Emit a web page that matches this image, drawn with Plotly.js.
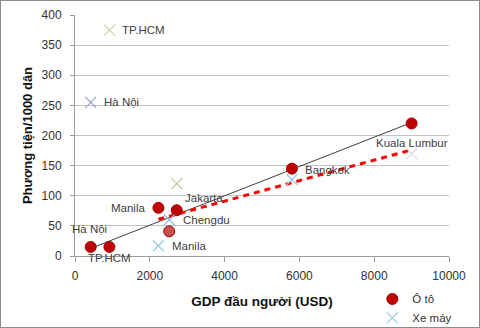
<!DOCTYPE html>
<html>
<head>
<meta charset="utf-8">
<script src="https://cdn.plot.ly/plotly-3.0.1.min.js"></script>
<style>
html,body{margin:0;padding:0;background:#fff;}
#frame{width:478px;height:326px;border:1px solid #8c8c8c;}
#chart{width:478px;height:326px;}
</style>
</head>
<body>
<div id="frame"><div id="chart"></div></div>
<script>
// ---- data ----
var cities = ["Manila", "Bangkok", "Jakarta", "Chengdu", "Kuala Lumbur", "Hà Nội", "TP.HCM"];
var gdpPerCapita = [2230, 5800, 2720, 2520, 9000, 420, 920];
var carsPer1000 = [80, 145, 76, 41, 220, 15, 15];
var motorbikesPer1000 = [17, 127, 120, 60, 170, 255, 375];
var motorbikeInTrend = [true, true, true, true, true, false, false];
var carLabelCities = ["Manila", "Bangkok", "Jakarta", "Hà Nội", "TP.HCM"];
var motorbikeLabelCities = ["Manila", "Chengdu", "Kuala Lumbur", "Hà Nội", "TP.HCM"];
var seriesNames = ["Ô tô", "Xe máy"];
var xTicks = [0, 2000, 4000, 6000, 8000, 10000];
var xTickText = ["0", "2000", "4000", "6000", "8000", "10000"];
var yTicks = [0, 50, 100, 150, 200, 250, 300, 350, 400];

// ---- styles ----
var carColors = ["#C00000", "#C00000", "#C00000", "#C8504F", "#C00000", "#C00000", "#C00000"];
var bikeColors = ["#93CDDD", "#93CDDD", "#C4BD97", "#8DB4E2", "#D9D9D9", "#95A3D2", "#C8D4A8"];
var labelStyle = {
  car: {"Manila": {xanchor: "right", xshift: -11, yshift: 0},
        "Bangkok": {xanchor: "left", xshift: 11, yshift: -1},
        "Jakarta": {xanchor: "left", xshift: 6, yshift: 12},
        "Hà Nội": {xanchor: "center", xshift: -1, yshift: 18},
        "TP.HCM": {xanchor: "center", xshift: 0, yshift: -11}},
  bike: {"Manila": {xanchor: "left", xshift: 12, yshift: 0},
         "Chengdu": {xanchor: "left", xshift: 12, yshift: 0},
         "Kuala Lumbur": {xanchor: "center", xshift: 0, yshift: 11},
         "Hà Nội": {xanchor: "left", xshift: 11, yshift: 0},
         "TP.HCM": {xanchor: "left", xshift: 11, yshift: 0}}
};

function linFit(xs, ys, keep) {
  var px = [], py = [];
  for (var i = 0; i < xs.length; i++) { if (!keep || keep[i]) { px.push(xs[i]); py.push(ys[i]); } }
  var n = px.length, mx = 0, my = 0;
  px.forEach(function (v) { mx += v / n; });
  py.forEach(function (v) { my += v / n; });
  var sxy = 0, sxx = 0;
  for (var j = 0; j < n; j++) { sxy += (px[j] - mx) * (py[j] - my); sxx += (px[j] - mx) * (px[j] - mx); }
  var b = sxy / sxx, a = my - b * mx;
  var x0 = Math.min.apply(null, px), x1 = Math.max.apply(null, px);
  return {x: [x0, x1], y: [a + b * x0, a + b * x1]};
}

var carFit = linFit(gdpPerCapita, carsPer1000, null);
var bikeFit = linFit(gdpPerCapita, motorbikesPer1000, motorbikeInTrend);

var traces = [
  {x: carFit.x, y: carFit.y, mode: "lines", showlegend: false, hoverinfo: "skip",
   line: {color: "#404040", width: 1}},
  {x: bikeFit.x, y: bikeFit.y, mode: "lines", showlegend: false, hoverinfo: "skip",
   line: {color: "#FF0000", width: 3, dash: "6px,5px"}},
  {x: gdpPerCapita, y: carsPer1000, name: seriesNames[0], mode: "markers", text: cities,
   marker: {symbol: "circle", size: 11, color: carColors, line: {color: "#A00000", width: 1}}},
  {x: gdpPerCapita, y: motorbikesPer1000, name: seriesNames[1], mode: "markers", text: cities,
   marker: {symbol: "x-thin-open", size: 11, color: bikeColors, line: {color: bikeColors, width: 1.2}}}
];

var annotations = [];
function addLabels(list, vals, style) {
  list.forEach(function (c) {
    var i = cities.indexOf(c), s = style[c];
    annotations.push({x: gdpPerCapita[i], y: vals[i], xref: "x", yref: "y", text: c, showarrow: false,
      xanchor: s.xanchor, yanchor: "middle", xshift: s.xshift, yshift: s.yshift,
      font: {family: "Liberation Sans, Arial, sans-serif", size: 11.5, color: "#404040"}});
  });
}
addLabels(carLabelCities, carsPer1000, labelStyle.car);
addLabels(motorbikeLabelCities, motorbikesPer1000, labelStyle.bike);

var layout = {
  width: 478, height: 326,
  margin: {l: 74, r: 30, t: 14, b: 71, autoexpand: false},
  paper_bgcolor: "#fff", plot_bgcolor: "#fff",
  font: {family: "Liberation Sans, Arial, sans-serif", size: 12, color: "#333"},
  xaxis: {range: [0, 10000], tickvals: xTicks, ticktext: xTickText, showgrid: false, zeroline: false,
    showline: true, linecolor: "#9a9a9a", linewidth: 1, ticks: "outside", ticklen: 5, tickcolor: "#9a9a9a",
    ticklabelstandoff: 4, tickfont: {size: 12, color: "#333"}, automargin: false,
    title: {text: "GDP đầu người (USD)", font: {size: 13.5, color: "#111", weight: "bold"}, standoff: 14}},
  yaxis: {range: [0, 400], tickvals: yTicks, showgrid: true, gridcolor: "#c4c4c4", gridwidth: 1, zeroline: false,
    showline: true, linecolor: "#9a9a9a", linewidth: 1, ticks: "outside", ticklen: 4, tickcolor: "#9a9a9a",
    ticklabelstandoff: 6, tickfont: {size: 12, color: "#333"}, automargin: false,
    title: {text: "Phương tiện/1000 dân", font: {size: 13, color: "#111", weight: "bold"}, standoff: 6}},
  legend: {x: 0.795, y: -0.118, xanchor: "left", yanchor: "top", bgcolor: "rgba(0,0,0,0)",
    font: {size: 11.5, color: "#333"}, tracegroupgap: 0, itemwidth: 30},
  annotations: annotations,
  showlegend: true
};

Plotly.newPlot("chart", traces, layout, {displayModeBar: false, staticPlot: true});
</script>
</body>
</html>
